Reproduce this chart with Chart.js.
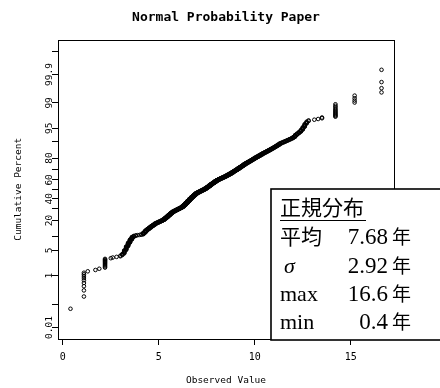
<!DOCTYPE html>
<html lang="ja">
<head>
<meta charset="UTF-8">
<title>Normal Probability Paper</title>
<script src="https://cdn.jsdelivr.net/npm/chart.js"></script>
<style>
  html, body { margin: 0; padding: 0; background: #fff; }
</style>
</head>
<body>
<canvas id="paper" width="440" height="388"></canvas>
<script>
var values = [
  0.4, 1.1, 1.3, 1.7, 1.9, 2.2, 2.5, 2.6, 2.8,
  3.0, 3.1, 3.2, 3.3, 3.4, 3.5, 3.6, 3.7, 3.8, 3.9,
  4.0, 4.1, 4.2, 4.3, 4.4, 4.5, 4.6, 4.7, 4.8, 4.9,
  5.0, 5.1, 5.2, 5.3, 5.4, 5.5, 5.6, 5.7, 5.8, 5.9,
  6.0, 6.1, 6.2, 6.3, 6.4, 6.5, 6.6, 6.7, 6.8, 6.9,
  7.0, 7.1, 7.2, 7.3, 7.4, 7.5, 7.6, 7.7, 7.8, 7.9,
  8.0, 8.1, 8.2, 8.3, 8.4, 8.5, 8.6, 8.7, 8.8, 8.9,
  9.0, 9.1, 9.2, 9.3, 9.4, 9.5, 9.6, 9.7, 9.8, 9.9,
  10.0, 10.1, 10.2, 10.3, 10.4, 10.5, 10.6, 10.7, 10.8, 10.9,
  11.0, 11.1, 11.2, 11.3, 11.4, 11.5, 11.6, 11.7, 11.8, 11.9,
  12.0, 12.1, 12.2, 12.3, 12.4, 12.5, 12.6, 12.7, 12.8,
  13.1, 13.3, 13.5, 14.2, 15.2, 16.6
];
var counts = [
  1, 9, 1, 1, 1, 11, 1, 1, 1,
  2, 3, 7, 9, 10, 10, 9, 4, 2, 1,
  1, 2, 7, 9, 7, 7, 7, 7, 7, 5,
  5, 5, 6, 9, 10, 11, 11, 10, 7, 7,
  7, 7, 9, 13, 15, 16, 16, 15, 14, 14,
  9, 8, 8, 8, 9, 11, 12, 12, 11, 11,
  10, 8, 7, 7, 7, 8, 8, 8, 9, 9,
  9, 9, 9, 9, 9, 8, 7, 7, 7, 7,
  7, 6, 6, 6, 6, 5, 5, 5, 5, 5,
  5, 5, 5, 5, 3, 3, 3, 3, 3, 3,
  4, 6, 4, 4, 5, 6, 6, 4, 2,
  1, 1, 2, 12, 4, 4
];

// probability paper ticks (percent)
var probTicks = [0.01, 0.1, 1, 5, 10, 20, 30, 40, 50, 60, 70, 80, 90, 95, 99, 99.9, 99.99];
var probLabels = [0.01, 1, 5, 20, 40, 60, 80, 95, 99, 99.9];
var xTicks = [0, 5, 10, 15];

// summary box
var statTitle = '正規分布';
var statNames = ['平均', 'σ', 'max', 'min'];
var statValues = ['7.68', '2.92', '16.6', '0.4'];
var statUnit = '年';

// inverse normal cdf (Acklam)
function qnorm(p) {
  var a = [-3.969683028665376e+01, 2.209460984245205e+02, -2.759285104469687e+02, 1.383577518672690e+02, -3.066479806614716e+01, 2.506628277459239e+00];
  var b = [-5.447609879822406e+01, 1.615858368580409e+02, -1.556989798598866e+02, 6.680131188771972e+01, -1.328068155288572e+01];
  var c = [-7.784894002430293e-03, -3.223964580411365e-01, -2.400758277161838e+00, -2.549732539343734e+00, 4.374664141464968e+00, 2.938163982698783e+00];
  var d = [7.784695709041462e-03, 3.224671290700398e-01, 2.445134137142996e+00, 3.754408661907416e+00];
  var plow = 0.02425, q, r;
  if (p < plow) {
    q = Math.sqrt(-2 * Math.log(p));
    return (((((c[0]*q+c[1])*q+c[2])*q+c[3])*q+c[4])*q+c[5]) / ((((d[0]*q+d[1])*q+d[2])*q+d[3])*q+1);
  }
  if (p > 1 - plow) {
    q = Math.sqrt(-2 * Math.log(1 - p));
    return -(((((c[0]*q+c[1])*q+c[2])*q+c[3])*q+c[4])*q+c[5]) / ((((d[0]*q+d[1])*q+d[2])*q+d[3])*q+1);
  }
  q = p - 0.5; r = q * q;
  return (((((a[0]*r+a[1])*r+a[2])*r+a[3])*r+a[4])*r+a[5])*q / (((((b[0]*r+b[1])*r+b[2])*r+b[3])*r+b[4])*r+1);
}

// plotting positions (i - 0.5) / n on the normal scale
var n = counts.reduce(function (s, c) { return s + c; }, 0);
var points = [];
var rank = 0;
values.forEach(function (v, k) {
  for (var j = 0; j < counts[k]; j++) {
    rank++;
    points.push({ x: v, y: qnorm((rank - 0.5) / n) });
  }
});

var MONO = 'DejaVu Sans Mono';

// box round the plotting region
var frame = {
  id: 'frame',
  afterDatasetsDraw: function (chart) {
    var a = chart.chartArea, ctx = chart.ctx;
    ctx.save();
    ctx.strokeStyle = '#000';
    ctx.lineWidth = 1;
    ctx.strokeRect(Math.round(a.left) + 0.5, Math.round(a.top) + 0.5,
      Math.round(a.right - a.left), Math.round(a.bottom - a.top));
    ctx.restore();
  }
};

// 正規分布 summary box in the lower right
var statsBox = {
  id: 'statsBox',
  afterDraw: function (chart) {
    var ctx = chart.ctx;
    var bx = 271, by = 189, bh = 151;
    ctx.save();
    ctx.fillStyle = '#fff';
    ctx.fillRect(bx, by, 200, bh);
    ctx.strokeStyle = '#000';
    ctx.lineWidth = 1.6;
    ctx.strokeRect(bx, by, 200, bh);

    ctx.fillStyle = '#000';
    ctx.textBaseline = 'alphabetic';
    ctx.textAlign = 'left';
    ctx.font = '21px "Noto Sans CJK JP"';
    ctx.fillText(statTitle, 280, 215);
    ctx.lineWidth = 1.2;
    ctx.beginPath();
    ctx.moveTo(280, 220.5);
    ctx.lineTo(366, 220.5);
    ctx.stroke();

    var rows = [244, 272.5, 301, 328.5];
    statNames.forEach(function (name, i) {
      var yy = rows[i];
      ctx.textAlign = 'left';
      if (/[\u3000-\u9fff]/.test(name)) {
        ctx.font = '21px "Noto Sans CJK JP"';
        ctx.fillText(name, 280, yy);
      } else if (name === 'σ') {
        ctx.font = 'italic 22px "Liberation Serif"';
        ctx.fillText(name, 284, yy);
      } else {
        ctx.font = '22px "Liberation Serif"';
        ctx.fillText(name, 280, yy);
      }
      ctx.font = '23px "Liberation Serif"';
      ctx.textAlign = 'right';
      ctx.fillText(statValues[i], 388, yy);
      ctx.textAlign = 'left';
      ctx.font = '19px "Noto Sans CJK JP"';
      ctx.fillText(statUnit, 392, yy);
    });
    ctx.restore();
  }
};

new Chart(document.getElementById('paper'), {
  type: 'scatter',
  data: {
    datasets: [{
      data: points,
      pointStyle: 'circle',
      pointRadius: 1.8,
      pointBorderWidth: 1,
      pointBorderColor: '#000',
      pointBackgroundColor: 'rgba(0,0,0,0)'
    }]
  },
  options: {
    responsive: false,
    animation: false,
    devicePixelRatio: 1,
    layout: { padding: { left: 0, right: 46, top: 0, bottom: 0 } },
    plugins: {
      legend: { display: false },
      tooltip: { enabled: false },
      title: {
        display: true,
        text: 'Normal Probability Paper',
        fullSize: false,
        color: '#000',
        font: { family: MONO, size: 13, weight: 'bold', lineHeight: 1.2 },
        padding: { top: 10, bottom: 14 }
      }
    },
    scales: {
      x: {
        type: 'linear',
        min: -0.25,
        max: 17.25,
        afterBuildTicks: function (s) { s.ticks = xTicks.map(function (v) { return { value: v }; }); },
        afterFit: function (s) { s.height = 49; },
        border: { display: false },
        grid: { display: true, drawOnChartArea: false, drawTicks: true, tickLength: 6, color: '#000', lineWidth: 1 },
        ticks: { color: '#000', padding: 6.5, autoSkip: false, maxRotation: 0, font: { family: MONO, size: 10 } },
        title: {
          display: true, text: 'Observed Value', color: '#000',
          font: { family: MONO, size: 9.5, lineHeight: 1.2 },
          padding: { top: 0, bottom: 1.3 }
        }
      },
      y: {
        type: 'linear',
        min: -4.03,
        max: 4.03,
        afterBuildTicks: function (s) { s.ticks = probTicks.map(function (p) { return { value: qnorm(p / 100) }; }); },
        afterFit: function (s) { s.width = 58; },
        border: { display: false },
        grid: { display: true, drawOnChartArea: false, drawTicks: true, tickLength: 6, color: '#000', lineWidth: 1 },
        ticks: {
          color: '#000',
          autoSkip: false,
          minRotation: 90,
          maxRotation: 90,
          crossAlign: 'center',
          padding: -9,
          font: { family: MONO, size: 9.5 },
          callback: function (value, index) {
            var p = probTicks[index];
            return probLabels.indexOf(p) >= 0 ? String(p) : '';
          }
        },
        title: {
          display: true, text: 'Cumulative Percent', color: '#000',
          font: { family: MONO, size: 9.5, lineHeight: 1.2 },
          padding: { top: 13.3, bottom: 0 }
        }
      }
    }
  },
  plugins: [frame, statsBox]
});
</script>
</body>
</html>
